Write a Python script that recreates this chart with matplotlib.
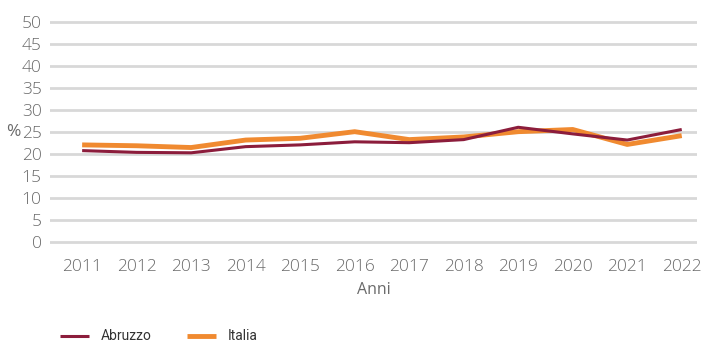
import matplotlib
matplotlib.use("Agg")
import matplotlib.pyplot as plt

# data
anni = [2011, 2012, 2013, 2014, 2015, 2016, 2017, 2018, 2019, 2020, 2021, 2022]
abruzzo = [20.7, 20.3, 20.2, 21.6, 22.0, 22.7, 22.5, 23.2, 26.0, 24.5, 23.1, 25.5]
italia = [22.0, 21.8, 21.4, 23.1, 23.5, 25.0, 23.2, 23.8, 25.0, 25.5, 22.1, 24.1]
yticks = [0, 5, 10, 15, 20, 25, 30, 35, 40, 45, 50]

# style
colAbruzzo = "#8c1d3c"
colItalia = "#f08a30"
colText = "#6a6a6a"
plt.rcParams["font.family"] = ["Open Sans", "DejaVu Sans"]
plt.rcParams["font.weight"] = "light"

fig = plt.figure(figsize=(7.01, 3.45), dpi=100)
ax = fig.add_axes([0.0713, 0.2867, 0.923, 0.6632])

ax.plot(anni, italia, color=colItalia, linewidth=3.5, solid_capstyle="butt", label="Italia", zorder=3)
ax.plot(anni, abruzzo, color=colAbruzzo, linewidth=2.2, solid_capstyle="butt", label="Abruzzo", zorder=4)

ax.set_xlim(2011 - 0.59, 2022 + 0.28)
ax.set_ylim(-1, 51)
ax.set_yticks(yticks)
ax.set_xticks(anni)
ax.set_xticklabels([str(a) for a in anni])

for y in yticks:
    ax.axhline(y, color="#d8d8d8", linewidth=2.0, zorder=1)

for s in ax.spines.values():
    s.set_visible(False)
ax.tick_params(axis="both", length=0, labelsize=12.5, labelcolor=colText)
ax.tick_params(axis="x", pad=9)
ax.tick_params(axis="y", pad=6)

ax.set_ylabel("%", rotation=0, fontsize=12.5, color=colText, va="center", ha="center")
ax.yaxis.set_label_coords(-0.056, 0.50)
ax.set_xlabel("Anni", fontsize=11.5, color=colText, labelpad=5)

# legend under the chart
handles, labels = ax.get_legend_handles_labels()
fig.legend(handles[::-1], labels[::-1], loc="center left", bbox_to_anchor=(0.0856, 0.025),
           ncol=2, frameon=False, handlelength=2.1, columnspacing=2.6,
           handletextpad=0.8, borderpad=0, borderaxespad=0, labelcolor="#333333",
           prop={"family": "Roboto", "size": 10, "weight": "normal"})

plt.savefig("out.png", dpi=100)
